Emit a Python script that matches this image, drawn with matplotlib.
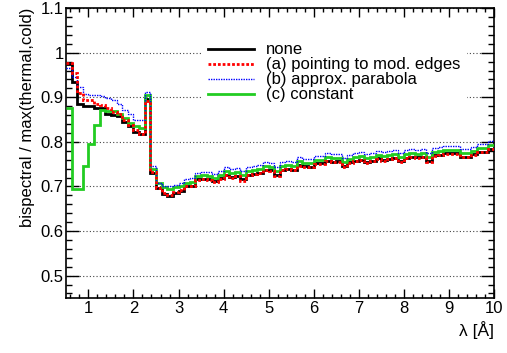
import numpy as np
import matplotlib
matplotlib.use('Agg')
from matplotlib import pyplot as plt
from matplotlib.ticker import MultipleLocator

plt.rcParams['font.family'] = ['Liberation Sans', 'DejaVu Sans']

# wavelength bin edges (0.125 A bins from 0.5 to 10 A)
edges = np.arange(0.5, 10.0001, 0.125)

none_vals = [0.975, 0.935, 0.885, 0.880, 0.880, 0.877, 0.876, 0.862, 0.860, 0.858,
             0.845, 0.835, 0.823, 0.818, 0.897, 0.730, 0.697, 0.683, 0.678, 0.685,
             0.690, 0.700, 0.702, 0.716, 0.717, 0.716, 0.712, 0.718, 0.726, 0.722,
             0.724, 0.716, 0.726, 0.728, 0.731, 0.737, 0.736, 0.726, 0.737, 0.740,
             0.738, 0.748, 0.745, 0.744, 0.752, 0.752, 0.758, 0.755, 0.756, 0.746,
             0.754, 0.758, 0.760, 0.755, 0.758, 0.763, 0.760, 0.762, 0.764, 0.757,
             0.764, 0.766, 0.765, 0.766, 0.757, 0.770, 0.771, 0.774, 0.774, 0.774,
             0.767, 0.767, 0.772, 0.778, 0.778, 0.784]

edges_vals = [0.978, 0.955, 0.910, 0.893, 0.893, 0.886, 0.883, 0.876, 0.866, 0.862,
              0.850, 0.838, 0.826, 0.818, 0.892, 0.732, 0.697, 0.686, 0.680, 0.688,
              0.691, 0.700, 0.701, 0.715, 0.716, 0.714, 0.710, 0.717, 0.725, 0.720,
              0.723, 0.713, 0.725, 0.727, 0.730, 0.736, 0.735, 0.723, 0.736, 0.739,
              0.737, 0.747, 0.743, 0.743, 0.751, 0.751, 0.757, 0.754, 0.755, 0.744,
              0.753, 0.757, 0.759, 0.753, 0.757, 0.762, 0.758, 0.761, 0.763, 0.754,
              0.763, 0.765, 0.764, 0.765, 0.754, 0.769, 0.770, 0.773, 0.773, 0.773,
              0.765, 0.766, 0.771, 0.777, 0.777, 0.783]

parab_vals = [0.965, 0.945, 0.922, 0.907, 0.905, 0.905, 0.902, 0.898, 0.893, 0.885,
              0.872, 0.862, 0.850, 0.848, 0.912, 0.745, 0.708, 0.700, 0.700, 0.703,
              0.708, 0.716, 0.719, 0.731, 0.733, 0.733, 0.729, 0.735, 0.743, 0.739,
              0.741, 0.734, 0.743, 0.745, 0.748, 0.754, 0.753, 0.744, 0.754, 0.757,
              0.755, 0.765, 0.762, 0.761, 0.769, 0.769, 0.775, 0.772, 0.773, 0.764,
              0.771, 0.775, 0.777, 0.772, 0.775, 0.780, 0.777, 0.779, 0.781, 0.775,
              0.781, 0.783, 0.782, 0.783, 0.775, 0.787, 0.788, 0.791, 0.791, 0.791,
              0.785, 0.785, 0.789, 0.795, 0.795, 0.801]

const_vals = [0.877, 0.694, 0.694, 0.746, 0.795, 0.838, 0.872, 0.870, 0.869, 0.862,
              0.853, 0.842, 0.835, 0.832, 0.905, 0.740, 0.708, 0.698, 0.695, 0.698,
              0.700, 0.708, 0.710, 0.724, 0.725, 0.724, 0.720, 0.726, 0.734, 0.730,
              0.732, 0.725, 0.734, 0.736, 0.739, 0.745, 0.744, 0.735, 0.745, 0.748,
              0.746, 0.756, 0.753, 0.752, 0.760, 0.760, 0.766, 0.763, 0.764, 0.755,
              0.762, 0.766, 0.768, 0.763, 0.766, 0.771, 0.768, 0.770, 0.772, 0.766,
              0.772, 0.774, 0.773, 0.774, 0.766, 0.778, 0.779, 0.782, 0.782, 0.782,
              0.776, 0.776, 0.780, 0.786, 0.786, 0.792]

labels = ['none', '(a) pointing to mod. edges', '(b) approx. parabola', '(c) constant']

GREEN = '#22cc22'
RED_LS = (0, (1, 0.7))
BLUE_LS = (0, (1, 0.8))

fig = plt.figure(figsize=(5.07, 3.53), dpi=100)
ax = fig.add_axes([0.130, 0.156, 0.844, 0.821])

for yv in [0.5, 0.6, 0.7, 0.8, 0.9, 1.0, 1.1]:
    ax.axhline(yv, color='#444444', lw=0.8, ls=(0, (1, 2)), zorder=0)

ax.stairs(none_vals, edges, baseline=None, color='black', lw=2, zorder=2)
ax.stairs(const_vals, edges, baseline=None, color=GREEN, lw=2, zorder=3)
ax.stairs(parab_vals, edges, baseline=None, color='blue', lw=1, ls=BLUE_LS, zorder=4)
ax.stairs(edges_vals, edges, baseline=None, color='red', lw=2, ls=RED_LS, zorder=5)

# legend handles in ROOT order
h0, = ax.plot([], [], color='black', lw=2)
h1, = ax.plot([], [], color='red', lw=2, ls=RED_LS)
h2, = ax.plot([], [], color='blue', lw=1, ls=BLUE_LS)
h3, = ax.plot([], [], color=GREEN, lw=2)
leg = ax.legend([h0, h1, h2, h3], labels,
                loc='upper left', bbox_to_anchor=(0.316, 0.9045), borderaxespad=0,
                frameon=True, fancybox=False, edgecolor='none', facecolor='white',
                framealpha=1, fontsize=12, handlelength=2.8, handletextpad=0.68,
                labelspacing=0.0, borderpad=0.4)
leg.set_zorder(10)

ax.set_xlim(0.5, 10)
ax.set_ylim(0.45, 1.1)
ax.xaxis.set_minor_locator(MultipleLocator(0.2))
ax.yaxis.set_minor_locator(MultipleLocator(0.02))
ax.set_xticks(range(1, 11))
ax.set_xticklabels([str(i) for i in range(1, 11)])
ax.set_yticks([0.5, 0.6, 0.7, 0.8, 0.9, 1.0, 1.1])
ax.set_yticklabels(['0.5', '0.6', '0.7', '0.8', '0.9', '1', '1.1'])
ax.tick_params(axis='both', which='both', direction='in', top=True, right=True, labelsize=12)
ax.tick_params(axis='x', which='major', length=6.3, width=1, pad=2)
ax.tick_params(axis='x', which='minor', length=3.1, width=1)
ax.tick_params(axis='y', which='major', length=9.2, width=1, pad=1.5)
ax.tick_params(axis='y', which='minor', length=4.6, width=1)
for s in ax.spines.values():
    s.set_linewidth(1.2)

ax.set_xlabel('λ [Å]', fontsize=12.5, loc='right')
ax.set_ylabel('bispectral / max(thermal,cold)', fontsize=12, loc='top')

fig.savefig('out.png', dpi=100)
